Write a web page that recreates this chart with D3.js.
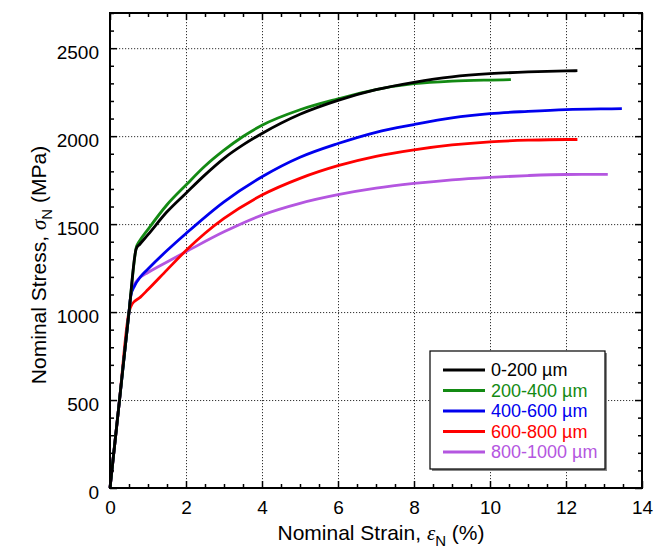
<!DOCTYPE html>
<html>
<head>
<meta charset="utf-8">
<script src="https://cdn.jsdelivr.net/npm/d3@7"></script>
<style>
  html, body { margin: 0; padding: 0; background: #fff; }
  svg { display: block; font-family: "Liberation Sans", Arial, sans-serif; }
</style>
</head>
<body>
<svg id="chart" width="668" height="554"></svg>
<script>
// ---- data ----
const seriesNames = ["0-200 µm", "200-400 µm", "400-600 µm", "600-800 µm", "800-1000 µm"];
const seriesColors = ["#000000", "#138a13", "#0000ee", "#ff0000", "#b456e0"];

const strain0 = [0, 0.25, 0.5, 0.69, 0.79, 1, 1.5, 2, 2.5, 3, 3.5, 4, 5, 6, 7, 8, 9, 10, 11, 12, 12.3];
const stress0 = [0, 500, 1000, 1360, 1387, 1440, 1570, 1676, 1780, 1874, 1950, 2015, 2124, 2203, 2264, 2306, 2337, 2355, 2365, 2371, 2372];

const strain1 = [0, 0.25, 0.5, 0.7, 0.76, 1, 1.5, 2, 2.5, 3, 3.5, 4, 5, 6, 7, 8, 9, 10, 10.55];
const stress1 = [0, 500, 1000, 1375, 1398, 1470, 1610, 1722, 1830, 1920, 1998, 2062, 2150, 2212, 2265, 2298, 2313, 2319, 2321];

const strain2 = [0, 0.25, 0.5, 0.55, 0.65, 0.8, 1, 1.5, 2, 3, 4, 5, 6, 7, 8, 9, 10, 11, 12, 13, 13.47];
const stress2 = [0, 500, 1000, 1095, 1150, 1200, 1245, 1350, 1447, 1627, 1769, 1880, 1958, 2022, 2066, 2104, 2128, 2141, 2151, 2155, 2156];

const strain3 = [0, 0.25, 0.5, 0.58, 0.8, 1, 1.5, 2, 2.5, 3, 4, 5, 6, 7, 8, 9, 10, 11, 12, 12.3];
const stress3 = [0, 500, 1000, 1045, 1085, 1128, 1240, 1350, 1448, 1532, 1665, 1760, 1832, 1885, 1922, 1950, 1968, 1977, 1981, 1981];

const strain4 = [0, 0.25, 0.5, 0.55, 0.65, 0.75, 1, 1.5, 2, 3, 4, 5, 6, 7, 8, 9, 10, 11, 12, 13.1];
const stress4 = [0, 500, 1000, 1100, 1160, 1188, 1225, 1285, 1343, 1456, 1551, 1618, 1667, 1704, 1731, 1752, 1766, 1776, 1782, 1783];

const xMajorTicks = [0, 2, 4, 6, 8, 10, 12, 14];
const yMajorTicks = [0, 500, 1000, 1500, 2000, 2500];

// ---- build ----
const strains = [strain0, strain1, strain2, strain3, strain4];
const stresses = [stress0, stress1, stress2, stress3, stress4];
const series = seriesNames.map((name, i) => ({
  name, color: seriesColors[i],
  values: strains[i].map((x, j) => ({ x, y: stresses[i][j] }))
}));

const L = 110, R = 642, T = 13, B = 488;
const svg = d3.select("#chart");
const x = d3.scaleLinear().domain([0, 14]).range([L, R]);
const y = d3.scaleLinear().domain([0, 2700]).range([B, T]);

const xMinor = d3.range(0, 14.001, 0.5).filter(v => !xMajorTicks.includes(v));
const yMinor = d3.range(0, 2700.1, 100).filter(v => !yMajorTicks.includes(v));

// grid
const grid = svg.append("g").attr("stroke", "#333").attr("stroke-width", 1).attr("stroke-dasharray", "1.2,1.8");
grid.selectAll(".gx").data(xMajorTicks.filter(v => v > 0 && v < 14)).join("line")
  .attr("x1", d => x(d) + 0.5).attr("x2", d => x(d) + 0.5).attr("y1", T).attr("y2", B);
grid.selectAll(".gy").data(yMajorTicks.filter(v => v > 0)).join("line")
  .attr("x1", L).attr("x2", R).attr("y1", d => y(d) + 0.5).attr("y2", d => y(d) + 0.5);

// curves
const line = d3.line().x(d => x(d.x)).y(d => y(d.y)).curve(d3.curveMonotoneX);
svg.append("g").selectAll("path").data(series.slice().reverse()).join("path")
  .attr("d", d => line(d.values))
  .attr("fill", "none").attr("stroke", d => d.color).attr("stroke-width", 2.8)
  .attr("stroke-linejoin", "round").attr("stroke-linecap", "butt");

// axes
const fontSize = 19;
function styleAxis(g) {
  g.select(".domain").remove();
  g.selectAll("line").attr("stroke", "#000").attr("stroke-width", 1.5);
  g.selectAll("text").attr("font-size", fontSize).attr("fill", "#000")
    .attr("font-family", "'Liberation Sans', Arial, sans-serif");
}
svg.append("g").attr("transform", `translate(0,${B})`)
  .call(d3.axisBottom(x).tickValues(xMajorTicks).tickSize(-7).tickPadding(13).tickFormat(d3.format("d"))).call(styleAxis);
svg.append("g").attr("transform", `translate(0,${B})`)
  .call(d3.axisBottom(x).tickValues(xMinor).tickSize(-4).tickFormat("")).call(styleAxis);
svg.append("g").attr("transform", `translate(0,${T})`)
  .call(d3.axisTop(x).tickValues(xMajorTicks).tickSize(-7).tickFormat("")).call(styleAxis);
svg.append("g").attr("transform", `translate(0,${T})`)
  .call(d3.axisTop(x).tickValues(xMinor).tickSize(-4).tickFormat("")).call(styleAxis);
svg.append("g").attr("transform", `translate(${L},0)`)
  .call(d3.axisLeft(y).tickValues(yMajorTicks).tickSize(-7).tickPadding(11).tickFormat(d3.format("d"))).call(styleAxis)
  .call(g => g.selectAll("text").attr("dy", "0.55em"));
svg.append("g").attr("transform", `translate(${L},0)`)
  .call(d3.axisLeft(y).tickValues(yMinor).tickSize(-4).tickFormat("")).call(styleAxis);
svg.append("g").attr("transform", `translate(${R},0)`)
  .call(d3.axisRight(y).tickValues(yMajorTicks).tickSize(-7).tickFormat("")).call(styleAxis);
svg.append("g").attr("transform", `translate(${R},0)`)
  .call(d3.axisRight(y).tickValues(yMinor).tickSize(-4).tickFormat("")).call(styleAxis);

// frame
svg.append("rect").attr("x", L).attr("y", T).attr("width", R - L).attr("height", B - T)
  .attr("fill", "none").attr("stroke", "#000").attr("stroke-width", 2);

// axis titles
const xt = svg.append("text").attr("x", 381).attr("y", 540).attr("text-anchor", "middle")
  .attr("font-size", 21).attr("fill", "#000");
xt.append("tspan").text("Nominal Strain, ");
xt.append("tspan").attr("font-style", "italic").attr("font-family", "'Liberation Serif', serif").text("ε");
xt.append("tspan").attr("font-size", 15).attr("dy", 6).text("N");
xt.append("tspan").attr("dy", -6).text(" (%)");

const yt = svg.append("text").attr("transform", `translate(46,265) rotate(-90)`)
  .attr("text-anchor", "middle").attr("font-size", 21).attr("fill", "#000");
yt.append("tspan").text("Nominal Stress, ");
yt.append("tspan").attr("font-style", "italic").attr("font-family", "'Liberation Serif', serif").text("σ");
yt.append("tspan").attr("font-size", 15).attr("dy", 6).text("N");
yt.append("tspan").attr("dy", -6).text(" (MPa)");

// legend
const lg = svg.append("g").attr("transform", "translate(430,351)");
lg.append("rect").attr("x", 2).attr("y", 2).attr("width", 175).attr("height", 118).attr("fill", "#888");
lg.append("rect").attr("width", 175).attr("height", 118).attr("fill", "#fff").attr("stroke", "#000").attr("stroke-width", 1.2);
const items = lg.selectAll(".it").data(series).join("g").attr("transform", (d, i) => `translate(0,${19 + i * 20.5})`);
items.append("line").attr("x1", 13).attr("x2", 55).attr("stroke", d => d.color).attr("stroke-width", 2.8);
items.append("text").attr("x", 61).attr("dy", "0.36em").attr("font-size", 18).attr("fill", d => d.color).text(d => d.name);
</script>
</body>
</html>
